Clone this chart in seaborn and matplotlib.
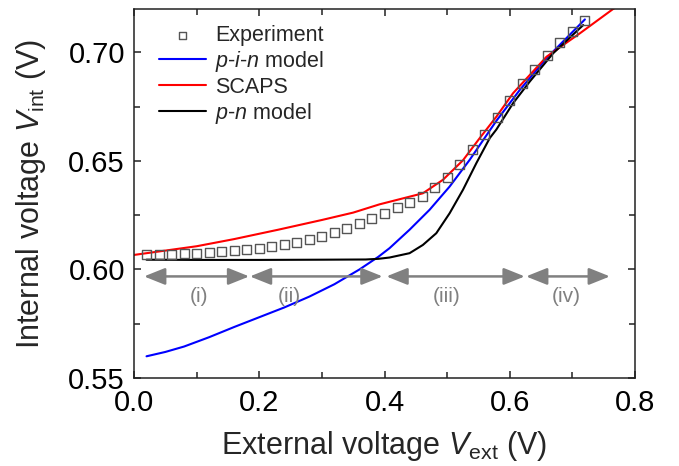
import numpy as np
import pandas as pd
import matplotlib
matplotlib.use("Agg")
import matplotlib.pyplot as plt
import seaborn as sns

# ---------------- data ----------------
exp_x = [0.02, 0.04, 0.06, 0.08, 0.10, 0.12, 0.14, 0.16, 0.18, 0.20, 0.22, 0.24,
         0.26, 0.28, 0.30, 0.32, 0.34, 0.36, 0.38, 0.40, 0.42, 0.44, 0.46, 0.48,
         0.50, 0.52, 0.54, 0.56, 0.58, 0.60, 0.62, 0.64, 0.66, 0.68, 0.70, 0.72]
exp_y = [0.6067, 0.6070, 0.6070, 0.6072, 0.6075, 0.6078, 0.6081, 0.6087, 0.6092,
         0.6098, 0.6106, 0.6115, 0.6126, 0.6138, 0.6153, 0.6172, 0.6188, 0.6211,
         0.6234, 0.6259, 0.6284, 0.6308, 0.6337, 0.6376, 0.6422, 0.6482, 0.6551,
         0.6624, 0.6702, 0.6778, 0.6855, 0.6919, 0.6984, 0.7045, 0.7096, 0.7146]

pin_x = [0.02, 0.05, 0.08, 0.12, 0.16, 0.20, 0.24, 0.28, 0.32, 0.36, 0.39, 0.408,
         0.44, 0.472, 0.504, 0.536, 0.568, 0.5787, 0.616, 0.6587, 0.72]
pin_y = [0.5600, 0.5620, 0.5645, 0.5688, 0.5735, 0.5780, 0.5825, 0.5875, 0.5932,
         0.6000, 0.6058, 0.6098, 0.6183, 0.6275, 0.6382, 0.6505, 0.6640, 0.6685,
         0.6827, 0.6973, 0.7152]

scaps_x = [0.00, 0.05, 0.10, 0.16, 0.23, 0.30, 0.35, 0.392, 0.4613, 0.4933, 0.5253,
           0.552, 0.5787, 0.6053, 0.632, 0.6587, 0.6853, 0.712, 0.765, 0.78]
scaps_y = [0.6067, 0.6087, 0.6107, 0.6140, 0.6183, 0.6228, 0.6262, 0.6300, 0.6351,
           0.6413, 0.6503, 0.6605, 0.6704, 0.6812, 0.6896, 0.6980, 0.7034, 0.7088,
           0.7200, 0.7225]

pn_x = [0.02, 0.10, 0.20, 0.30, 0.37, 0.39, 0.408, 0.44, 0.4613, 0.4827, 0.504,
        0.5253, 0.5467, 0.568, 0.5787, 0.6053, 0.632, 0.6693, 0.7173]
pn_y = [0.6045, 0.6044, 0.6044, 0.6045, 0.6046, 0.6049, 0.6055, 0.6075, 0.6113,
        0.6167, 0.6259, 0.6367, 0.6490, 0.6605, 0.6645, 0.6766, 0.6866, 0.6996,
        0.7126]

region_labels = ["(i)", "(ii)", "(iii)", "(iv)"]
region_start = [0.016, 0.185, 0.403, 0.626]
region_end = [0.184, 0.397, 0.624, 0.760]
region_label_x = [0.104, 0.248, 0.500, 0.690]
arrow_y = 0.5968
label_y = 0.5875

x_ticks = [0.0, 0.2, 0.4, 0.6, 0.8]
x_ticklabels = ["0.0", "0.2", "0.4", "0.6", "0.8"]
y_ticks = [0.55, 0.60, 0.65, 0.70]
y_ticklabels = ["0.55", "0.60", "0.65", "0.70"]

# ---------------- style ----------------
sns.set_style("ticks")
plt.rcParams["font.family"] = ["Liberation Sans", "DejaVu Sans"]
plt.rcParams["mathtext.fontset"] = "custom"
plt.rcParams["mathtext.rm"] = "Liberation Sans"
plt.rcParams["mathtext.it"] = "Liberation Sans:italic"
plt.rcParams["mathtext.bf"] = "Liberation Sans:bold"

fig = plt.figure(figsize=(6.79, 4.66), dpi=100)
ax = fig.add_axes([134 / 679, 1 - 378 / 466, 501 / 679, 369 / 466])

df_exp = pd.DataFrame({"x": exp_x, "y": exp_y})
df_pin = pd.DataFrame({"x": pin_x, "y": pin_y})
df_scaps = pd.DataFrame({"x": scaps_x, "y": scaps_y})
df_pn = pd.DataFrame({"x": pn_x, "y": pn_y})

sns.scatterplot(data=df_exp, x="x", y="y", ax=ax, marker="s", s=42,
                facecolor="none", edgecolor="#555555", linewidth=1.0,
                label="Experiment", zorder=3)
sns.lineplot(data=df_pin, x="x", y="y", ax=ax, color="#0000FF", lw=1.5,
             label=r"$p$-$i$-$n$ model", sort=False)
sns.lineplot(data=df_scaps, x="x", y="y", ax=ax, color="#FF0000", lw=1.5,
             label="SCAPS", sort=False)
sns.lineplot(data=df_pn, x="x", y="y", ax=ax, color="black", lw=1.5,
             label=r"$p$-$n$ model", sort=False)

for s, e, lx, lab in zip(region_start, region_end, region_label_x, region_labels):
    ax.annotate("", xy=(e, arrow_y), xytext=(s, arrow_y),
                arrowprops=dict(arrowstyle="<|-|>,head_length=0.8,head_width=0.32",
                                color="#808080", lw=1.8, shrinkA=0, shrinkB=0,
                                mutation_scale=16))
    ax.text(lx, label_y, lab, color="#808080", fontsize=15,
            ha="center", va="center")

ax.set_xlim(0, 0.8)
ax.set_ylim(0.55, 0.72)
ax.set_xticks(x_ticks)
ax.set_xticklabels(x_ticklabels)
ax.set_yticks(y_ticks)
ax.set_yticklabels(y_ticklabels)
ax.set_xticks([0.1, 0.3, 0.5, 0.7], minor=True)
ax.set_yticks([0.575, 0.625, 0.675], minor=True)
ax.tick_params(axis="both", which="both", direction="in", top=True, right=True,
               colors="#222222", labelcolor="black", width=1.1)
ax.tick_params(axis="both", which="major", length=5, labelsize=21)
ax.tick_params(axis="both", which="minor", length=4)
ax.tick_params(axis="y", which="major", pad=6.5)
ax.tick_params(axis="x", which="major", pad=8)
for sp in ax.spines.values():
    sp.set_linewidth(1.1)
    sp.set_color("#222222")

ax.set_xlabel(r"External voltage $\mathit{V}_{\mathrm{ext}}$ (V)", fontsize=22)
ax.set_ylabel(r"Internal voltage $\mathit{V}_{\mathrm{int}}$ (V)", fontsize=22)
ax.xaxis.set_label_coords(0.5, -0.137)
ax.yaxis.set_label_coords(-0.172, 0.5)

handles, labels = ax.get_legend_handles_labels()
ax.legend(handles, labels, loc="upper left", bbox_to_anchor=(0.05, 0.956),
          frameon=False, fontsize=15.5, handlelength=2.2, handletextpad=0.4,
          labelspacing=0.13, borderpad=0, borderaxespad=0, markerscale=0.75)

fig.savefig("out.png", dpi=100)
